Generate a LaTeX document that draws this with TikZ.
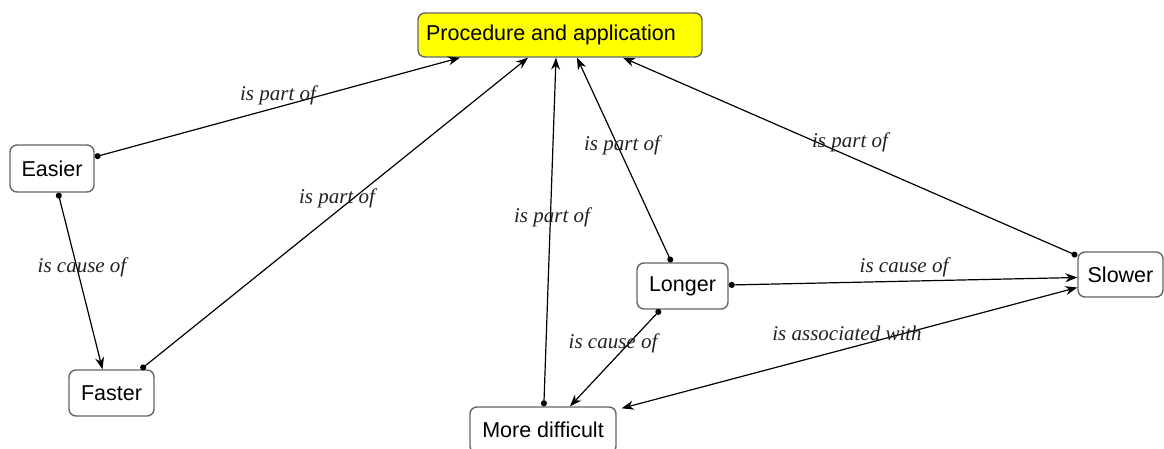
\documentclass[tikz,border=0pt]{standalone}
\usepackage{fontspec}
\setmainfont{Liberation Sans}
\newfontfamily\lblfont{Liberation Serif}
\usetikzlibrary{arrows.meta}
\definecolor{boxgray}{HTML}{666666}
\definecolor{lblgray}{HTML}{222222}
\definecolor{procyellow}{HTML}{FFFF00}
\begin{document}
\begin{tikzpicture}[x=1pt,y=-1pt,
  box/.style={draw=boxgray, line width=1.4pt, rounded corners=7pt, fill=white,
    font=\fontsize{21.5}{24}\selectfont, inner sep=0pt, align=center},
  lbl/.style={font=\lblfont\itshape\fontsize{21}{24}\selectfont, text=lblgray, inner sep=0pt},
  rel/.style={line width=1.2pt, {Circle[length=6pt]}-{Stealth[length=12pt,width=9pt]}},
  both/.style={line width=1.2pt, {Stealth[length=12pt,width=9pt]}-{Stealth[length=12pt,width=9pt]}}]
\useasboundingbox (0,0) rectangle (1164,449);
\fill[white] (0,0) rectangle (1164,449);
% nodes
\node[box, fill=procyellow, minimum width=284pt, minimum height=44pt] (proc) at (560,35) {Procedure and application\hspace{18pt}};
\node[box, minimum width=84pt, minimum height=47pt] (easier) at (52,168.5) {Easier};
\node[box, minimum width=85pt, minimum height=46pt] (faster) at (111.5,393) {Faster};
\node[box, minimum width=146pt, minimum height=46pt] (md) at (543,430) {More difficult};
\node[box, minimum width=91pt, minimum height=46pt] (longer) at (682.5,286) {Longer};
\node[box, minimum width=85pt, minimum height=45pt] (slower) at (1120.5,274.5) {Slower};
% connectors
\draw[rel] (easier) -- ([xshift=-100pt]proc.south);
\draw[rel] (faster) -- ([xshift=-32pt]proc.south);
\draw[rel] (md) -- ([xshift=-4pt]proc.south);
\draw[rel] (longer) -- ([xshift=17pt]proc.south);
\draw[rel] (slower) -- ([xshift=63pt]proc.south);
\draw[rel] (easier) -- ([xshift=-9pt]faster.north);
\draw[rel] (longer) -- ([yshift=-3pt]slower.west);
\draw[rel] (longer) -- ([xshift=27pt]md.north);
\draw[both] ([xshift=5pt,yshift=-2pt]md.north east) -- ([yshift=-13pt]slower.west);
% labels
\node[lbl] (l1) at (278,95) {is part of};
\node[lbl] (l2) at (337,198) {is part of};
\node[lbl] (l3) at (552,217) {is part of};
\node[lbl] (l4) at (622,145) {is part of};
\node[lbl] (l5) at (850,142) {is part of};
\node[lbl] (l6) at (82,267) {is cause of};
\node[lbl] (l7) at (904,267) {is cause of};
\node[lbl] (l8) at (613,343) {is cause of};
\node[lbl] (l9) at (847,333) {is associated with};
\end{tikzpicture}
\end{document}
